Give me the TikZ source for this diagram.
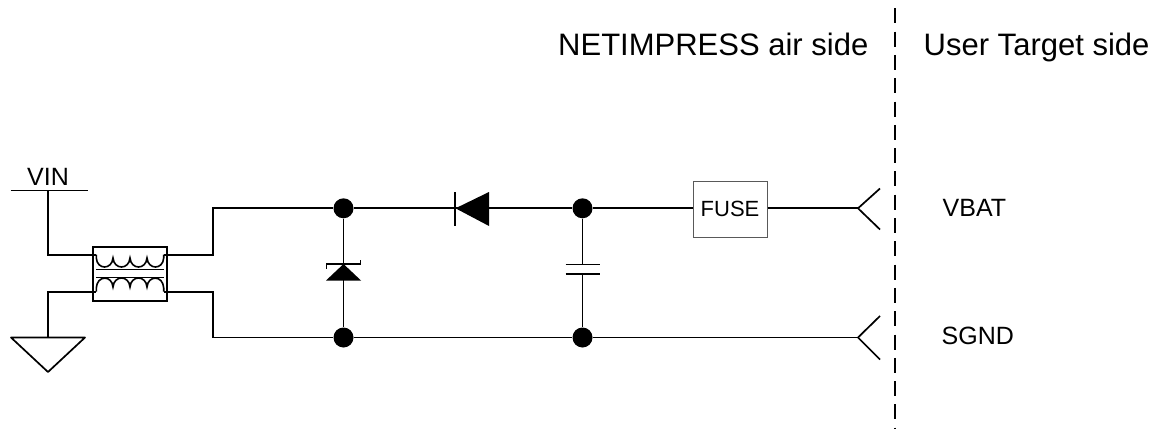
\documentclass[tikz,border=0pt]{standalone}
\usepackage{fontspec}
\setmainfont{Liberation Sans}
\begin{document}
\begin{tikzpicture}[x=1pt,y=-1pt,
  wire/.style={line width=1.7pt,black},
  dot/.style={circle,fill=black,draw=none,minimum size=20pt,inner sep=0pt},
  fusebox/.style={draw=black!65,line width=1pt,fill=white,minimum width=74pt,minimum height=56pt,inner sep=0pt,font=\fontsize{22}{26}\selectfont},
  xfbox/.style={draw=black,line width=1.7pt,minimum width=74pt,minimum height=54pt,inner sep=0pt},
  head/.style={font=\fontsize{31}{36}\selectfont,inner sep=0pt,anchor=base west},
  lab/.style={font=\fontsize{25}{30}\selectfont,inner sep=0pt,anchor=base west}]
\useasboundingbox (0,0) rectangle (1166,428);
\fill[white] (0,0) rectangle (1166,428);
% texts
\node[head] (h1) at (558,55.5) {NETIMPRESS air side};
\node[head] (h2) at (923.5,55.5) {User Target side};
\node[lab] (vin) at (27,185.7) {VIN};
\node[lab] (vbat) at (942.5,216.7) {VBAT};
\node[lab] (sgnd) at (941.5,344.5) {SGND};
% divider
\coordinate (divt) at (895.3,8.3);
\coordinate (divb) at (895.3,428);
\draw[line width=1.7pt,dash pattern=on 15pt off 8.3pt] (divt) -- (divb);
% coordinates
\coordinate (vinl) at (10.5,190.5);
\coordinate (vinr) at (87.5,190.5);
\coordinate (vinm) at (48,190.5);
\coordinate (gndm) at (48,337.5);
\coordinate (gl) at (11,337.5);
\coordinate (gr) at (85,337.5);
\coordinate (gb) at (48,372);
\coordinate (p1) at (48,254.7);
\coordinate (p2) at (48,291.7);
\coordinate (p3) at (213,254.7);
\coordinate (p4) at (213,291.7);
\coordinate (p5) at (213,208.3);
\coordinate (p6) at (213,337.5);
\node[xfbox] (xf) at (130,274) {};
\node[dot] (d1) at (343.5,208.3) {};
\node[dot] (d2) at (582.5,208.3) {};
\node[dot] (d3) at (343.5,337.5) {};
\node[dot] (d4) at (582.5,337.5) {};
\node[fusebox] (fuse) at (730,209) {FUSE};
\coordinate (c1) at (858,208.3);
\coordinate (c1a) at (880,188.5);
\coordinate (c1b) at (880,229.5);
\coordinate (c2) at (858,337.5);
\coordinate (c2a) at (880,316);
\coordinate (c2b) at (880,359.5);
% supply and ground
\draw[wire] (vinl) -- (vinr);
\draw[wire,line join=miter] (vinm) -- (p1) -- (96,254.7);
\draw[wire,line join=miter] (gndm) -- (p2) -- (96,291.7);
\draw[wire,line join=round] (gl) -- (gr) -- (gb) -- cycle;
% output of transformer
\draw[wire] (164,254.7) -- (p3) -- (p5) -- (d1);
\draw[wire] (164,291.7) -- (p4) -- (p6) -- (d3);
% transformer coils
\draw[line width=1.6pt] (96.3,254.7) -- (96.3,258) .. controls (97,270) and (112,270) .. (113,258)
  .. controls (114,270) and (129,270) .. (130,258)
  .. controls (131,270) and (146,270) .. (147,258)
  .. controls (148,270) and (163,270) .. (163.7,258) -- (163.7,254.7);
\draw[line width=1.6pt] (96.3,291.7) -- (96.3,288) .. controls (97,275) and (112,275) .. (113,287)
  .. controls (114,275) and (129,275) .. (130,287)
  .. controls (131,275) and (146,275) .. (147,287)
  .. controls (148,275) and (163,275) .. (163.7,288) -- (163.7,291.7);
\draw[line width=1.6pt] (96,269.5) -- (164,269.5);
\draw[line width=1.6pt] (96,277.5) -- (164,277.5);
% main rails
\draw[wire] (d1) -- (d2);
\draw[wire] (d2) -- (d2 -| fuse.west);
\draw[wire] (fuse.east |- c1) -- (c1);
\draw[wire] (d3) -- (d4);
\draw[wire] (d4) -- (c2);
\draw[wire,line join=miter] (c1a) -- (c1) -- (c1b);
\draw[wire,line join=miter] (c2a) -- (c2) -- (c2b);
% series diode
\fill (455.5,208.3) -- (489,192) -- (489,226) -- cycle;
\draw[wire] (455,192) -- (455,226);
% zener
\draw[wire] (d1) -- (d3);
\fill (343.5,264) -- (361,280.5) -- (326,280.5) -- cycle;
\draw[line width=1.4pt] (326.5,268.5) -- (326.5,264) -- (360.5,264) -- (360.5,259.5);
% capacitor
\draw[wire] (d2) -- (582.5,264.5);
\draw[wire] (582.5,274) -- (d4);
\draw[wire] (565.5,264.5) -- (600,264.5);
\draw[wire] (565.5,274) -- (600,274);
\end{tikzpicture}
\end{document}
